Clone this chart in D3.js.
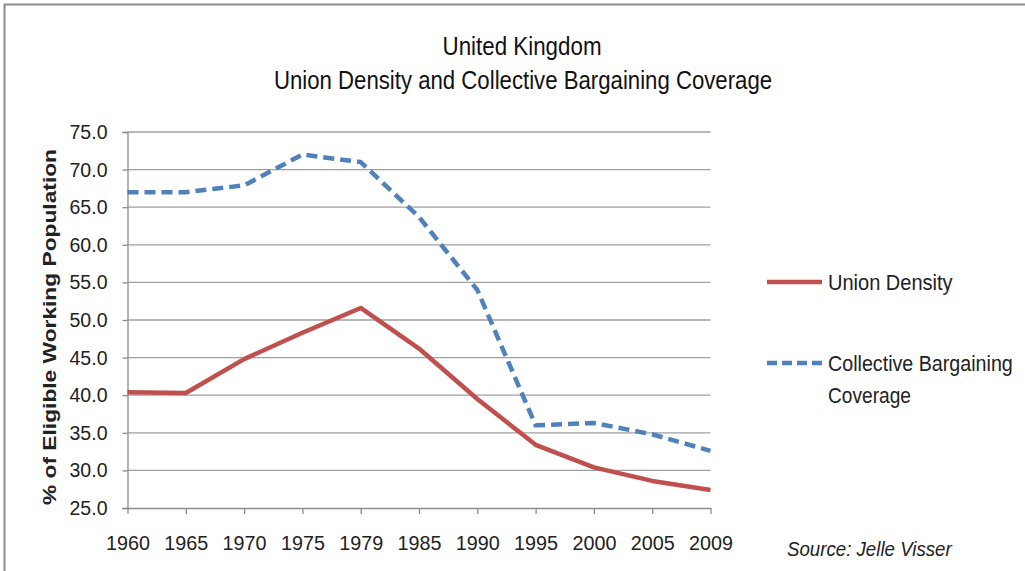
<!DOCTYPE html>
<html><head><meta charset="utf-8">
<script src="https://cdn.jsdelivr.net/npm/d3@7"></script>
<style>body{margin:0;background:#fff}svg{display:block}</style>
</head><body>
<svg id="c" width="1025" height="571"></svg>
<script>
const years = ["1960","1965","1970","1975","1979","1985","1990","1995","2000","2005","2009"];
const unionDensity = [40.4, 40.3, 44.8, 48.3, 51.6, 46.2, 39.5, 33.4, 30.4, 28.6, 27.4];
const bargainingCoverage = [67.0, 67.0, 67.9, 72.0, 71.0, 63.7, 54.0, 36.0, 36.3, 34.8, 32.6];
const yTicks = [25,30,35,40,45,50,55,60,65,70,75];
const seriesNames = ["Union Density", "Collective Bargaining Coverage"];

const font = "'Liberation Sans','Noto Sans',sans-serif";
const svg = d3.select("#c");

// frame
svg.append("rect").attr("x",4.5).attr("y",4.5).attr("width",1030).attr("height",580)
  .attr("fill","none").attr("stroke","#8c8c8c").attr("stroke-width",2);

const x = d3.scalePoint().domain(years).range([127.5,710.5]);
const y = d3.scaleLinear().domain([25,75]).range([508,132]);

// gridlines
svg.append("g").selectAll("line").data(yTicks.slice(1)).join("line")
  .attr("x1",127.5).attr("x2",710.5).attr("y1",d=>y(d)).attr("y2",d=>y(d))
  .attr("stroke","#a0a0a0").attr("stroke-width",1.3);

// y axis
const ya = svg.append("g").attr("transform","translate(127.5,0)")
  .call(d3.axisLeft(y).tickValues(yTicks).tickSize(5).tickPadding(15).tickFormat(d3.format(".1f")));
ya.select(".domain").attr("stroke","#8c8c8c").attr("stroke-width",1.3);
ya.selectAll(".tick line").attr("stroke","#8c8c8c").attr("stroke-width",1.3);
ya.selectAll("text").attr("font-family",font).attr("font-size",20).attr("fill","#222")
  .attr("textLength",38).attr("lengthAdjust","spacingAndGlyphs");

// x axis
const xa = svg.append("g").attr("transform","translate(0,508)")
  .call(d3.axisBottom(x).tickSize(6).tickPadding(22).tickSizeOuter(0));
xa.select(".domain").attr("stroke","#8c8c8c").attr("stroke-width",1.3);
xa.selectAll(".tick line").attr("stroke","#8c8c8c").attr("stroke-width",1.3);
xa.selectAll("text").attr("font-family",font).attr("font-size",20).attr("fill","#222")
  .attr("textLength",44).attr("lengthAdjust","spacingAndGlyphs");

// lines
const line = d3.line().x((d,i)=>x(years[i])).y(d=>y(d));
svg.append("path").datum(bargainingCoverage).attr("d",line).attr("fill","none")
  .attr("stroke","#4F81BD").attr("stroke-width",4.5).attr("stroke-dasharray","11,6");
svg.append("path").datum(unionDensity).attr("d",line).attr("fill","none")
  .attr("stroke","#C0504D").attr("stroke-width",4.5).attr("stroke-linejoin","round");

// horizontally condensed text helper (Calibri-like proportions)
function ctext(xp, yp, sx, size, str, opts={}) {
  const t = svg.append("text")
    .attr("transform",`translate(${xp},${yp}) scale(${sx},1)`)
    .attr("font-family",font).attr("font-size",size).attr("fill",opts.fill||"#222")
    .attr("text-anchor",opts.anchor||"start").text(str);
  if (opts.italic) t.attr("font-style","italic");
  return t;
}

// title
ctext(522,55,0.86,26,"United Kingdom",{anchor:"middle",fill:"#111"});
ctext(523,89,0.854,26,"Union Density and Collective Bargaining Coverage",{anchor:"middle",fill:"#111"});

// y title
svg.append("text").attr("transform","translate(56,327) rotate(-90)").attr("text-anchor","middle")
  .attr("font-family",font).attr("font-weight","bold")
  .attr("font-size",19).attr("fill","#222")
  .attr("textLength",356).attr("lengthAdjust","spacingAndGlyphs").text("% of Eligible Working Population");

// legend
svg.append("line").attr("x1",767).attr("x2",822).attr("y1",282).attr("y2",282)
  .attr("stroke","#C0504D").attr("stroke-width",4.5);
ctext(828,290,0.91,22,seriesNames[0]);
svg.append("line").attr("x1",767).attr("x2",822).attr("y1",363).attr("y2",363)
  .attr("stroke","#4F81BD").attr("stroke-width",4.5).attr("stroke-dasharray","10,5");
ctext(828,371,0.895,22,"Collective Bargaining");
ctext(828,403,0.87,22,"Coverage");

// source
ctext(787,556,0.89,21,"Source: Jelle Visser",{italic:true});
</script>
</body></html>
